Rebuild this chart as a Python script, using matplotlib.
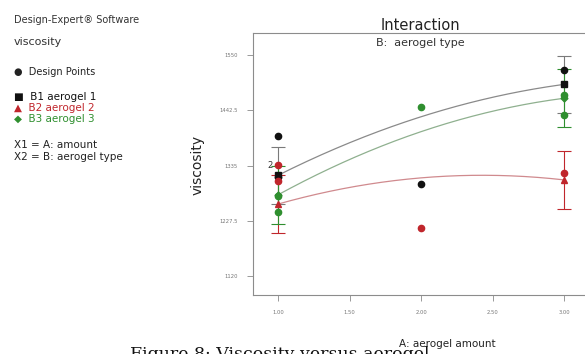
import numpy as np
import matplotlib
matplotlib.use("Agg")
import matplotlib.pyplot as plt

# Factor levels and model predictions (quadratic in A for each aerogel type)
levels = [1.0, 2.0, 3.0]
pred_b1 = [1316, 1430, 1493]
pred_b2 = [1260, 1311, 1307]
pred_b3 = [1278, 1401, 1466]
lsd_half = 56

# Design points
pts_b1_x = [1, 1, 2, 3]
pts_b1_y = [1393, 1312, 1299, 1520]
pts_b2_x = [1, 1, 2, 3]
pts_b2_y = [1336, 1305, 1214, 1321]
pts_b3_x = [1, 1, 2, 3, 3]
pts_b3_y = [1276, 1244, 1448, 1473, 1434]

xticks = [1.00, 1.50, 2.00, 2.50, 3.00]
xtick_labels = ["1.00", "1.50", "2.00", "2.50", "3.00"]
yticks = [1120, 1227.5, 1335, 1442.5, 1550]
ytick_labels = ["1120", "1227.5", "1335", "1442.5", "1550"]

BLACK = "#111111"
RED = "#c0262c"
GREEN = "#2f8f2f"

fig = plt.figure(figsize=(5.85, 3.54), dpi=100)
fig.patch.set_facecolor("white")
ax = fig.add_axes([0.4325, 0.1667, 0.576, 0.7401])
ax.set_xlim(0.825, 3.18)
ax.set_ylim(1083, 1593)

xs = np.linspace(1, 3, 200)
series = [
    (pred_b1, "#8a8a8a", "#7a7a7a", BLACK, "s"),
    (pred_b2, "#d08a8e", "#c0262c", RED, "^"),
    (pred_b3, "#8fb08f", "#2f8f2f", GREEN, "D"),
]
for pred, lc, ec, mc, mk in series:
    coef = np.polyfit(levels, pred, 2)
    ax.plot(xs, np.polyval(coef, xs), color=lc, lw=0.9, zorder=2)
    ends_x = [levels[0], levels[-1]]
    ends_y = [pred[0], pred[-1]]
    ax.errorbar(ends_x, ends_y, yerr=lsd_half, fmt="none", ecolor=ec,
                elinewidth=0.8, capsize=5, capthick=0.8, zorder=3)
    ax.plot(ends_x, ends_y, linestyle="none", marker=mk, color=mc,
            markersize=4 if mk != "D" else 3.5, zorder=4)

ax.plot(pts_b1_x, pts_b1_y, "o", color=BLACK, ms=4.5, zorder=5)
ax.plot(pts_b2_x, pts_b2_y, "o", color=RED, ms=4.5, zorder=5)
ax.plot(pts_b3_x, pts_b3_y, "o", color=GREEN, ms=4.5, zorder=5)
ax.text(0.965, 1336, "2", fontsize=6, color="#333333", ha="right", va="center", zorder=6)

for s in ax.spines.values():
    s.set_color("#8c8c8c")
    s.set_linewidth(0.8)
ax.set_xticks(xticks)
ax.set_xticklabels(xtick_labels)
ax.set_yticks(yticks)
ax.set_yticklabels(ytick_labels)
ax.tick_params(axis="both", colors="#999999", labelsize=3.8, length=4, width=0.7,
               labelcolor="#777777", pad=7)

# Titles and axis labels
fig.text(420 / 585, 1 - 25 / 354, "Interaction", fontsize=10.5, ha="center", va="center",
         color="#222222")
fig.text(420 / 585, 1 - 43 / 354, "B:  aerogel type", fontsize=8, ha="center", va="center",
         color="#333333")
fig.text(198 / 585, 1 - 165 / 354, "viscosity", fontsize=10, rotation=90, ha="center",
         va="center", color="#222222", fontweight="medium")
fig.text(447 / 585, 1 - 344 / 354, "A: aerogel amount", fontsize=7.5, ha="center",
         va="center", color="#222222", zorder=5)

# Side panel
fig.text(14 / 585, 1 - 20 / 354, "Design-Expert® Software", fontsize=7, va="center",
         color="#333333")
fig.text(14 / 585, 1 - 42 / 354, "viscosity", fontsize=8, va="center", color="#333333")
fig.text(14 / 585, 1 - 72 / 354, "●  Design Points", fontsize=7, va="center", color="#222222")
fig.text(14 / 585, 1 - 97 / 354, "■  B1 aerogel 1", fontsize=7.5, va="center", color=BLACK)
fig.text(14 / 585, 1 - 108 / 354, "▲  B2 aerogel 2", fontsize=7.5, va="center", color=RED)
fig.text(14 / 585, 1 - 119 / 354, "◆  B3 aerogel 3", fontsize=7.5, va="center", color=GREEN)
fig.text(14 / 585, 1 - 145 / 354, "X1 = A: amount", fontsize=7.5, va="center", color="#222222")
fig.text(14 / 585, 1 - 157 / 354, "X2 = B: aerogel type", fontsize=7.5, va="center",
         color="#222222")

# Figure caption (runs past the lower edge)
fig.text(130 / 585, 1 - 346 / 354, "Figure 8: Viscosity versus aerogel", fontsize=12.5,
         family="DejaVu Serif", va="top", color="#111111", zorder=1)

fig.savefig("out.png", dpi=100, facecolor="white")
